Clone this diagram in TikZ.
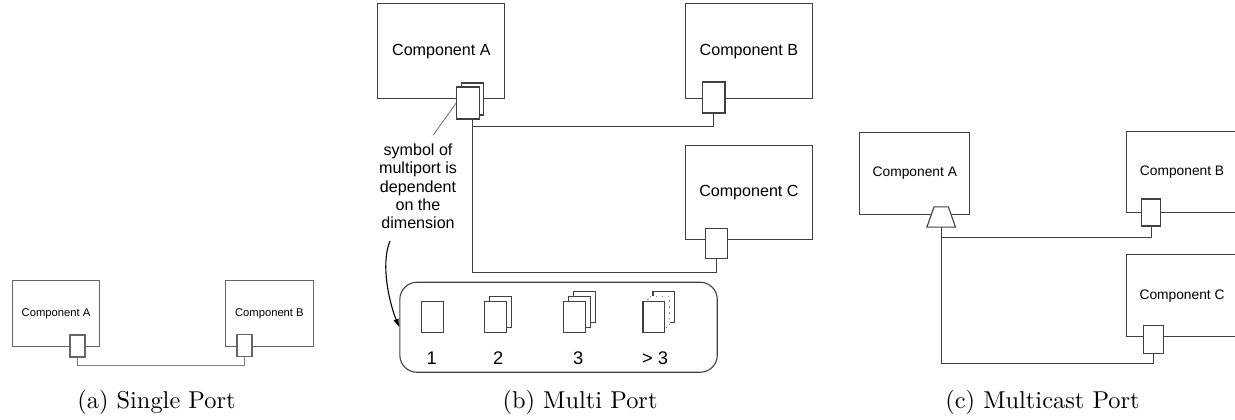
\documentclass[tikz,border=0pt]{standalone}
\usepackage{fontspec}
\newfontfamily\arialf{Liberation Sans}
\usetikzlibrary{arrows.meta,calc}
\newlength\pxl
\setlength\pxl{0.41pt}

\begin{document}
\begin{tikzpicture}[x=0.41pt,y=-0.41pt,
  line/.style={draw=black!75, line width=0.45pt},
  comp/.style={line, inner sep=0pt, anchor=north west},
  port/.style={line, fill=white, inner sep=0pt, anchor=center},
  sheet/.style={port, minimum width=21.6\pxl, minimum height=31.7\pxl},
  wire/.style={line},
  fa/.style={font=\arialf\fontsize{4.6}{5.5}\selectfont},
  fb/.style={font=\arialf\fontsize{6.6}{7.5}\selectfont},
  fc/.style={font=\arialf\fontsize{5.65}{6.5}\selectfont},
  num/.style={font=\arialf\fontsize{7.5}{9}\selectfont, inner sep=0pt, anchor=base},
  subcap/.style={font=\fontsize{10}{12}\selectfont, inner sep=0pt, anchor=base}]
\path[use as bounding box] (0,0) rectangle (1235,419);
\clip (0,0) rectangle (1235,419);

% ---------- (a) single port ----------
\node[comp, fa, draw=black!60, minimum width=87.6\pxl, minimum height=65.5\pxl] (aA) at (11.7,280) {Component A};
\node[comp, fa, draw=black!60, minimum width=87.7\pxl, minimum height=65.5\pxl] (aB) at (225,280) {Component B};
\node[port, draw=black!60, minimum width=15\pxl, minimum height=22\pxl] (aPA) at (77.5,346) {};
\node[port, draw=black!60, minimum width=15\pxl, minimum height=22\pxl] (aPB) at (244.5,345.5) {};
\draw[wire, draw=black!50] (aPA.south) -- ++(0,8) -| (aPB.south);
\node[subcap] (capA) at (156.5,408) {(a) Single Port};

% ---------- (b) multi port ----------
\node[comp, fb, minimum width=127\pxl, minimum height=94.7\pxl] (bA) at (377.3,3.3) {Component A};
\node[port, minimum width=22.6\pxl, minimum height=32\pxl] (mpAb) at (472.5,99) {};
\node[port, minimum width=22.6\pxl, minimum height=32\pxl] (mpA) at (468,103) {};
\node[comp, fb, minimum width=126.7\pxl, minimum height=94.4\pxl] (bB) at (685,3.3) {Component B};
\node[port, minimum width=22.6\pxl, minimum height=31\pxl] (bPB) at (713.7,97.5) {};
\node[comp, fb, minimum width=126.7\pxl, minimum height=94.3\pxl] (bC) at (685,145) {Component C};
\node[port, minimum width=22\pxl, minimum height=30.5\pxl] (bPC) at (716.5,243.5) {};
\coordinate (mpout) at (mpAb |- mpA.south);
\draw[wire] (mpout) -- ++(0,7) -| (bPB.south);
\draw[wire] (mpout) -- ++(0,152.7) -| (bPC.south);

% annotation
\node[fb, align=center, inner sep=0pt] (note) at (418,186.5)
  {symbol of\\multiport is\\dependent\\on the\\dimension};
\coordinate (ptr) at (433.3,135);
\draw[draw=black!60, line width=0.3pt] (ptr) -- (mpA.west);

% legend of multiport symbols
\node[line, rounded corners=7pt, inner sep=0pt, anchor=north west,
      minimum width=317.4\pxl, minimum height=90\pxl] (legend) at (399.3,281.7) {};
\coordinate (arr0) at (390,241);
\draw[black, line width=0.45pt, -{Latex[length=3.4pt,width=2.4pt]}]
  (arr0) .. controls (380,265) and (390,305) .. (legend.west);

\node[sheet] (s1) at (432.5,316.9) {};
\node[sheet] (s2b) at (500.5,311.9) {};
\node[sheet] (s2) at (495.5,316.9) {};
\node[sheet] (s3c) at (584.7,306.9) {};
\node[sheet] (s3b) at (579.7,311.9) {};
\node[sheet] (s3) at (574.7,316.9) {};
\node[sheet] (s4c) at (663.8,306.9) {};
\node[sheet, draw=black!45, dotted] (s4b) at (658.8,311.9) {};
\node[sheet] (s4) at (653.8,316.9) {};

\node[num] (n1) at (431.7,364) {1};
\node[num] (n2) at (498.3,364) {2};
\node[num] (n3) at (578.3,364) {3};
\node[num] (n4) at (655,364) {> 3};
\node[subcap] (capB) at (580,408) {(b) Multi Port};

% ---------- (c) multicast port ----------
\node[comp, fc, minimum width=110\pxl, minimum height=82.3\pxl] (cA) at (859.3,131.7) {Component A};
% multicast port: a trapezoid, narrow side towards the component
\node[inner sep=0pt, minimum width=27.7\pxl, minimum height=19.4\pxl] (mc) at (941.2,217) {};
\draw[line, fill=white] (mc.south west) -- (mc.south east)
  -- ($(mc.north east)+(-7.2,0)$) -- ($(mc.north west)+(7.2,0)$) -- cycle;
\node[comp, fc, minimum width=111\pxl, minimum height=81.6\pxl] (cB) at (1126,130.7) {Component B};
\node[port, minimum width=19\pxl, minimum height=27\pxl] (cPB) at (1151.2,212.5) {};
\node[comp, fc, minimum width=111\pxl, minimum height=81.7\pxl] (cC) at (1126,254.3) {Component C};
\node[port, minimum width=20\pxl, minimum height=27.6\pxl] (cPC) at (1153.3,339.5) {};
\draw[wire] (mc.south) -- ++(0,10.6) -| (cPB.south);
\draw[wire] (mc.south) -- ++(0,136.6) -| (cPC.south);
\node[subcap] (capC) at (1042.5,408) {(c) Multicast Port};
\end{tikzpicture}
\end{document}
